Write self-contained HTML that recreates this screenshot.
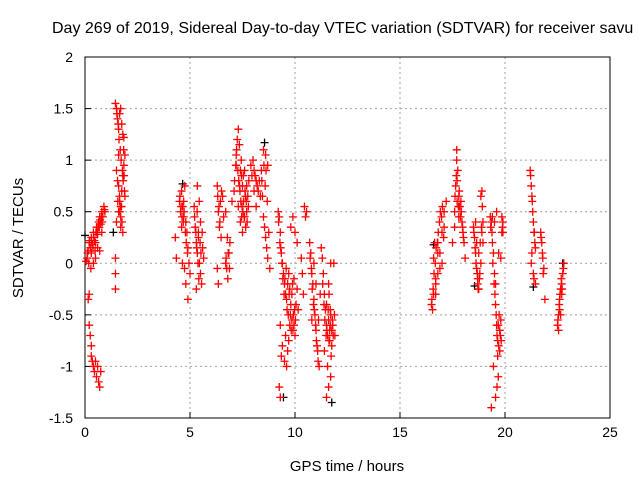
<!DOCTYPE html>
<html><head><meta charset="utf-8"><style>
body{margin:0;background:#fff}
svg{display:block;font-family:"Liberation Sans",sans-serif}
</style></head><body>
<svg id="chart" width="640" height="480">
<text x="52" y="33" font-size="16">Day 269 of 2019, Sidereal Day-to-day VTEC variation (SDTVAR) for receiver savu</text>
<g id="grid"></g>
<g id="axes"></g>
<g id="marks"></g>
<text x="347" y="471" font-size="15" text-anchor="middle">GPS time / hours</text>
<text transform="translate(23,238) rotate(-90)" font-size="15" text-anchor="middle">SDTVAR / TECUs</text>
</svg>
<script>
const xTicks=[0,5,10,15,20,25];
const yTicks=[-1.5,-1,-0.5,0,0.5,1,1.5,2];
const redT=[0.05,0.1,0.15,0.2,0.25,0.3,0.35,0.4,0.45,0.5,0.55,0.6,0.65,0.7,0.75,0.8,0.85,0.9,0.95,0.3,0.4,0.5,0.6,0.7,0.8,
0.15,0.2,0.2,0.25,0.3,0.3,0.35,0.4,0.45,0.5,0.55,0.6,0.65,0.7,0.75,
1.45,1.5,1.55,1.6,1.65,1.7,1.75,1.8,1.85,1.9,1.5,1.55,1.6,1.65,1.7,1.75,1.8,1.85,1.5,1.6,1.7,1.8,1.9,1.6,1.7,1.45,1.45,1.45,
4.5,4.55,4.6,4.65,4.7,4.75,4.8,4.85,4.9,4.95,5.0,4.6,4.7,4.8,4.9,4.3,4.35,
5.2,5.25,5.3,5.35,5.4,5.45,5.5,5.55,5.6,5.65,5.3,5.4,5.5,5.35,
6.3,6.35,6.4,6.45,6.5,6.55,6.7,6.75,6.8,6.85,6.9,6.6,6.7,6.3,6.35,
7.0,7.1,7.2,7.25,7.3,7.35,7.4,7.45,7.5,7.55,7.6,7.65,7.7,7.75,7.8,7.2,7.3,7.4,7.5,7.6,7.7,
7.9,8.0,8.1,8.2,8.3,8.4,8.5,8.6,8.7,8.05,8.15,8.45,
8.5,8.55,8.6,8.65,8.7,8.75,8.8,
9.2,9.25,9.3,9.35,9.4,9.45,9.5,9.55,9.6,9.65,9.7,9.75,9.8,9.85,9.9,9.95,10.0,10.05,10.1,10.15,9.3,9.4,9.5,9.6,9.7,9.8,9.25,9.3,9.9,10.0,10.1,
10.45,10.5,10.55,10.3,10.35,10.4,
10.7,10.75,10.8,10.85,10.9,10.95,11.0,11.05,11.1,11.15,11.2,11.25,10.8,
11.3,11.35,11.4,11.45,11.5,11.55,11.6,11.65,11.7,11.75,11.8,11.85,11.9,11.4,11.5,11.6,11.7,11.5,11.6,11.7,
16.5,16.6,16.7,16.8,16.9,17.0,17.1,17.2,16.6,16.7,16.8,16.9,17.0,17.1,16.55,16.65,
17.5,17.6,17.65,17.7,17.75,17.8,17.85,17.9,17.95,18.0,18.05,18.1,17.7,17.8,17.6,
18.5,18.55,18.6,18.65,18.7,18.75,18.8,18.85,18.9,18.95,18.6,18.7,18.85,18.9,18.95,
19.3,19.35,19.4,19.45,19.5,19.55,19.6,19.65,19.7,19.75,19.8,19.85,19.9,19.4,19.5,19.6,19.7,19.8,19.9,19.45,19.55,19.35,
21.2,21.25,21.3,21.35,21.4,21.45,21.25,21.35,21.45,21.7,21.75,21.8,21.85,21.9,
22.5,22.55,22.6,22.65,22.7,22.75,22.8,22.6,22.7];
const redV=[0.02,0.05,0.12,0.2,0.15,0.25,0.18,0.3,0.22,0.2,0.35,0.28,0.4,0.45,0.38,0.5,0.45,0.55,0.5,0.1,0.0,0.05,0.15,0.12,0.3,
-0.35,-0.3,-0.6,-0.7,-0.8,-0.9,-0.95,-1.0,-1.05,-0.95,-1.1,-1.0,-1.15,-1.2,-1.05,
1.55,1.5,1.4,1.3,1.45,1.5,1.35,1.25,1.22,1.05,0.9,0.8,0.75,0.6,0.55,0.7,0.85,0.95,0.4,0.5,0.35,0.3,0.65,1.05,0.45,0.05,-0.1,-0.25,
0.6,0.5,0.7,0.55,0.45,0.75,0.4,0.3,0.15,0.0,-0.1,0.35,0.6,-0.2,-0.35,0.25,0.05,
0.55,0.35,0.2,0.1,0.3,0.0,-0.1,-0.2,0.15,0.05,-0.25,0.25,0.4,0.75,
0.75,0.5,0.35,0.6,0.7,0.65,0.0,-0.05,-0.15,0.1,0.2,0.45,0.5,-0.05,-0.2,
0.6,0.7,1.05,1.2,1.3,1.15,0.9,0.85,0.75,0.6,0.45,0.35,0.5,0.65,0.8,0.95,0.55,0.4,0.3,0.9,0.75,
0.95,1.0,0.85,0.75,0.8,0.9,1.1,1.05,0.95,0.7,0.55,0.65,
0.45,0.35,0.25,0.15,0.05,0.3,-0.05,
0.5,0.45,0.3,0.1,0.0,-0.1,-0.2,-0.3,-0.35,-0.2,-0.1,-0.25,-0.4,-0.55,-0.65,-0.6,-0.7,-0.4,-0.25,-0.45,-0.6,-0.8,-0.95,-1.0,-0.75,0.35,-1.2,-1.3,0.45,0.3,0.2,
0.55,0.45,0.5,0.05,-0.1,-0.3,
0.2,0.1,-0.1,-0.2,-0.35,-0.5,-0.65,-0.8,-0.95,-1.0,-0.3,0.15,-0.55,
0.05,-0.1,-0.3,-0.45,-0.6,-0.7,-0.55,-0.65,-0.5,-0.8,-0.6,0.0,-0.7,-0.85,-0.4,-0.2,0.0,-1.3,-1.2,-1.1,
-0.4,-0.3,-0.2,-0.1,0.1,0.3,0.5,0.6,0.05,-0.15,0.2,-0.05,0.0,0.35,-0.45,0.2,
0.2,0.5,0.75,1.0,0.9,0.65,0.55,0.6,0.4,0.3,0.2,0.05,1.1,0.45,0.35,
0.35,0.25,0.1,-0.05,-0.2,-0.25,-0.1,0.0,0.3,0.4,0.4,-0.15,0.65,0.7,0.2,
0.45,0.4,0.2,0.1,-0.1,-0.4,-0.6,-0.75,-0.8,-0.65,-0.55,0.45,0.3,0.45,0.4,0.5,0.1,0.05,0.4,-1.0,-1.3,-1.4,
0.9,0.75,0.6,0.4,0.3,0.15,0.0,-0.1,-0.2,0.3,0.2,0.05,-0.05,-0.35,
-0.6,-0.5,-0.35,-0.25,-0.2,-0.1,0.0,-0.45,-0.3];
const extraT=[0.12,0.22,0.32,0.42,0.52,0.62,0.72,0.82,0.92,0.38,0.58,0.78,0.18,0.28,0.48,0.68,
1.52,1.58,1.62,1.68,1.72,1.78,1.82,1.88,1.56,1.66,1.76,1.86,1.64,1.74,1.84,
4.52,4.58,4.62,4.68,4.72,4.78,4.82,4.88,4.64,4.74,
5.22,5.28,5.32,5.38,5.42,5.48,5.52,5.58,5.44,5.34,
6.32,6.38,6.42,6.48,6.72,6.78,6.82,6.88,
7.12,7.18,7.22,7.28,7.32,7.38,7.42,7.48,7.52,7.58,7.62,7.68,7.72,7.78,7.44,7.54,7.64,7.36,7.46,
7.95,8.05,8.15,8.25,8.35,8.42,8.52,8.62,8.58,8.68,
9.22,9.28,9.32,9.38,9.42,9.48,9.52,9.58,9.62,9.68,9.72,9.78,9.82,9.88,9.92,9.98,10.02,9.55,9.65,9.75,9.85,9.95,9.35,
10.72,10.78,10.82,10.88,10.92,10.98,11.02,11.08,11.12,10.9,11.0,
11.32,11.38,11.42,11.48,11.52,11.58,11.62,11.68,11.72,11.78,11.82,11.88,11.55,11.65,11.75,11.62,11.68,
16.52,16.58,16.62,16.68,16.72,16.78,16.82,16.88,16.92,16.98,17.02,17.08,16.7,16.8,
17.62,17.68,17.72,17.78,17.82,17.88,17.92,17.98,18.02,17.72,17.82,
18.52,18.58,18.62,18.68,18.72,18.78,18.82,18.88,18.92,18.65,18.75,
19.32,19.38,19.42,19.48,19.52,19.58,19.62,19.68,19.72,19.78,19.82,19.88,19.55,19.65,19.75,19.85,19.62,19.68,
21.22,21.28,21.32,21.38,21.42,21.28,21.38,21.72,21.78,21.82,
22.52,22.58,22.62,22.68,22.72,22.78,22.55,22.65];
const extraV=[0.1,0.22,0.2,0.25,0.3,0.35,0.42,0.4,0.52,0.15,0.3,0.45,0.0,-0.05,0.12,0.35,
1.45,1.35,1.2,1.1,1.0,0.9,0.8,0.7,0.6,0.5,0.4,0.85,0.65,0.55,1.1,
0.65,0.55,0.45,0.4,0.5,0.3,0.2,0.1,0.0,-0.05,
0.45,0.3,0.15,0.0,-0.15,0.2,0.1,0.3,0.6,0.5,
0.65,0.55,0.4,0.25,0.05,0.25,0.1,-0.05,
0.8,0.95,1.1,0.9,0.8,0.7,0.6,0.55,0.5,0.45,0.7,0.6,0.4,0.55,1.0,0.85,0.65,0.75,0.45,
0.85,0.9,0.8,0.7,0.65,0.8,0.95,0.9,0.75,0.6,
0.4,0.2,0.15,0.0,-0.15,-0.3,-0.15,-0.05,-0.45,-0.5,-0.3,-0.5,-0.65,-0.2,-0.5,-0.45,-0.55,-0.7,-0.85,-0.6,-0.3,-0.15,-0.9,
0.05,-0.05,-0.25,-0.4,-0.45,-0.6,-0.75,-0.85,-0.55,0.0,-0.2,
-0.2,-0.4,-0.55,-0.7,-0.65,-0.45,-0.75,-0.6,-0.9,-0.55,-0.7,-0.5,-1.0,-0.75,-0.65,-0.3,-0.45,
-0.35,-0.25,-0.1,0.0,0.15,0.2,0.3,0.4,0.5,0.45,0.55,0.25,-0.3,0.1,
0.65,0.85,0.8,0.55,0.7,0.45,0.5,0.35,0.25,0.6,0.55,
0.3,0.15,0.0,-0.1,-0.25,-0.15,0.2,0.35,0.55,0.2,0.1,
0.35,0.3,0.0,-0.2,-0.3,-0.5,-0.7,-0.6,-0.5,-0.7,-0.75,0.35,-0.2,-0.9,-0.85,0.3,-1.2,-1.1,
0.85,0.65,0.5,0.3,0.2,0.1,-0.15,0.25,0.1,-0.1,
-0.55,-0.4,-0.3,-0.15,-0.25,-0.05,-0.65,-0.5];
const blackT=[0.0,4.65,8.55,11.75,16.6,18.55,21.35,22.75,1.35,9.45];
const blackV=[0.27,0.77,1.17,-1.35,0.18,-0.22,-0.23,0.0,0.3,-1.3];
const X0=85,X1=610,Y0=418,Y1=57;
const sx=t=>X0+(t-0)/25*(X1-X0);
const sy=v=>Y0-(v+1.5)/3.5*(Y0-Y1);
const NS='http://www.w3.org/2000/svg';
const grid=document.getElementById('grid'),axes=document.getElementById('axes'),marks=document.getElementById('marks');
function mk(tag,a,p){const e=document.createElementNS(NS,tag);for(const k in a)e.setAttribute(k,a[k]);p.appendChild(e);return e;}
xTicks.forEach(t=>{const x=sx(t);
 if(t>0&&t<25){const g=mk('line',{x1:x,x2:x,y1:Y1,y2:Y0,stroke:'#a0a0a0','stroke-dasharray':'2,3'},grid);
 
 }
 const tk=mk('line',{x1:x,x2:x,y1:Y0,y2:Y0-6,stroke:'#000'},axes);
 
 
 const tx=mk('text',{x:x,y:Y0+19,'font-size':14,'text-anchor':'middle'},axes);tx.textContent=t;
 
 });
yTicks.forEach(v=>{const y=sy(v);
 if(v>-1.5&&v<2){const g=mk('line',{x1:X0,x2:X1,y1:y,y2:y,stroke:'#a0a0a0','stroke-dasharray':'2,3'},grid);
 
 }
 const tk=mk('line',{x1:X0,x2:X0+6,y1:y,y2:y,stroke:'#000'},axes);
 
 
 const tx=mk('text',{x:X0-12,y:y+5,'font-size':14,'text-anchor':'end'},axes);tx.textContent=v;
 
 });
const fr=mk('rect',{x:X0,y:Y1,width:X1-X0,height:Y0-Y1,fill:'none',stroke:'#000'},axes);


function plus(t,v,c){const x=sx(t),y=sy(v);
 const p=mk('path',{d:`M${x-4},${y}H${x+4}M${x},${y-4}V${y+4}`,stroke:c,'stroke-width':1.3,fill:'none'},marks);
 return p;}
blackT.forEach((t,i)=>{const p=plus(t,blackV[i],'#000');
 
 });
redT.forEach((t,i)=>{const p=plus(t,redV[i],'#f00');
 
 });
extraT.forEach((t,i)=>{const p=plus(t,extraV[i],'#f00');
 
 });
</script>
</body></html>
